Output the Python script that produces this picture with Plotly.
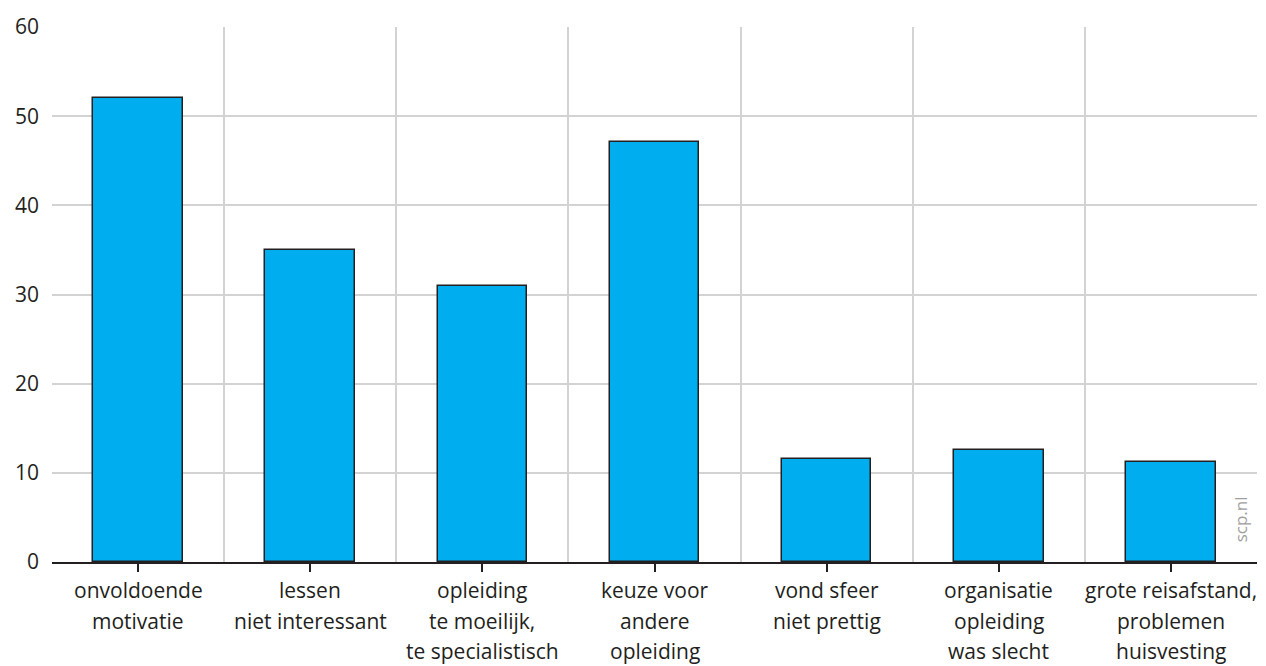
import plotly.graph_objects as go

categories = [
    "onvoldoende<br>motivatie",
    "lessen<br>niet interessant",
    "opleiding<br>te moeilijk,<br>te specialistisch",
    "keuze voor<br>andere<br>opleiding",
    "vond sfeer<br>niet prettig",
    "organisatie<br>opleiding<br>was slecht",
    "grote reisafstand,<br>problemen<br>huisvesting",
]
values = [52.0, 35.0, 31.0, 47.1, 11.6, 12.6, 11.2]
y_ticks = [0, 10, 20, 30, 40, 50, 60]

positions = list(range(len(categories)))
font_family = "'Open Sans', sans-serif"
text_color = "#231F20"

fig = go.Figure(go.Bar(
    x=positions, y=values, width=0.52,
    marker=dict(color="#00AEEF", line=dict(color=text_color, width=1.5)),
    hoverinfo="skip",
))

# page body has an 8px margin, so the figure is sized to fit the window
fig.update_layout(
    width=1258, height=658,
    margin=dict(l=44, r=9, t=19, b=104, autoexpand=False),
    plot_bgcolor="white", paper_bgcolor="white",
    showlegend=False,
    font=dict(family=font_family, size=21, color=text_color),
    bargap=0,
)
fig.update_xaxes(
    range=[-0.5, 6.5],
    tickvals=positions, showticklabels=False, automargin=False,
    showgrid=False, zeroline=False,
    ticks="outside", ticklen=8, tickwidth=1.5, tickcolor=text_color,
    showline=True, linecolor=text_color, linewidth=1.5,
    minor=dict(tick0=-0.5, dtick=1, showgrid=True, gridcolor="#D3D3D3", gridwidth=1.5, ticks=""),
)
fig.update_yaxes(
    range=[0, 60],
    tickvals=y_ticks, automargin=False,
    showgrid=True, gridcolor="#D3D3D3", gridwidth=1.5,
    zeroline=False, ticks="", showline=False,
    tickfont=dict(size=21), ticklabelstandoff=12,
)

# x labels, one annotation per line for the wider line spacing
for pos, label in zip(positions, categories):
    for i, line in enumerate(label.split("<br>")):
        fig.add_annotation(
            text=line, x=pos, y=0, xref="x", yref="y",
            yanchor="middle", xanchor="center", showarrow=False,
            yshift=-(28 + 30.5 * i), font=dict(size=21, color=text_color),
        )

fig.add_annotation(
    text="scp.nl", xref="paper", yref="paper", x=0.986, y=0.08,
    textangle=-90, showarrow=False, font=dict(size=17, color="#A0A0A0"),
    xanchor="center", yanchor="middle",
)
fig.write_html("out.html")
